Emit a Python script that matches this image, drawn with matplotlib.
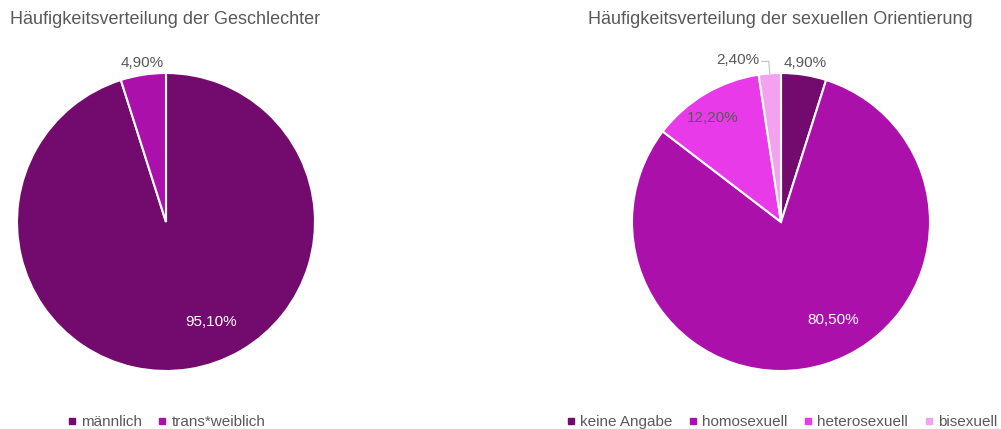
import numpy as np
import matplotlib
matplotlib.use("Agg")
import matplotlib.pyplot as plt
from matplotlib.lines import Line2D

plt.rcParams['font.family'] = ['Liberation Sans', 'DejaVu Sans']

# data
gender_labels = ['männlich', 'trans*weiblich']
gender_values = [95.1, 4.9]
gender_colors = ['#730b6e', '#ab10ab']

orient_labels = ['keine Angabe', 'homosexuell', 'heterosexuell', 'bisexuell']
orient_values = [4.9, 80.5, 12.2, 2.4]
orient_colors = ['#730b6e', '#ab10ab', '#e93ae9', '#f2a2ef']

W, H = 1001, 429
fig = plt.figure(figsize=(W / 100, H / 100), dpi=100)
ax = fig.add_axes([0, 0, 1, 1])
ax.axis('off')

R = 149
grey = '#595959'


def fmt(v):
    return f'{v:.2f}%'.replace('.', ',')


def draw_pie(cx, cy, values, colors, label_pos, label_colors):
    # label_pos: (dx, dy) offsets in units of radius
    ax.pie(values, colors=colors, startangle=90, counterclock=False,
           center=(cx, cy), radius=R, frame=True,
           wedgeprops=dict(edgecolor='white', linewidth=1.5))
    for v, p, c in zip(values, label_pos, label_colors):
        if p is None:
            continue
        ax.text(cx + p[0] * R, cy + p[1] * R, fmt(v),
                ha='center', va='center', fontsize=11, color=c)


# left pie
cxl, cyl = 166, H - 222
draw_pie(cxl, cyl, gender_values, gender_colors,
         [(0.30, -0.67), (-0.16, 1.07)], ['white', grey])

# right pie
cxr, cyr = 781, H - 222
draw_pie(cxr, cyr, orient_values, orient_colors,
         [(0.16, 1.07), (0.35, -0.66), (-0.46, 0.70), None],
         [grey, 'white', grey, grey])
# leader line for the small slice
a = np.deg2rad(90 + orient_values[3] * 3.6 / 2)
x0, y0 = cxr + R * np.cos(a), cyr + R * np.sin(a)
ax.plot([x0, x0 - 1, x0 - 8], [y0, y0 + 12, y0 + 12], color='#bfbfbf', lw=0.8)
ax.text(x0 - 10, y0 + 13, fmt(orient_values[3]), ha='right', va='center',
        fontsize=11, color=grey)

ax.set_xlim(0, W)
ax.set_ylim(0, H)
ax.set_aspect('equal')

# titles
fig.text(10 / W, 1 - 20 / H, 'Häufigkeitsverteilung der Geschlechter',
         fontsize=13, color=grey, va='center', ha='left')
fig.text(588 / W, 1 - 20 / H, 'Häufigkeitsverteilung der sexuellen Orientierung',
         fontsize=13, color=grey, va='center', ha='left')


def legend(labels, colors, x):
    handles = [Line2D([], [], marker='s', ls='', markersize=5, color=c) for c in colors]
    fig.legend(handles, labels, loc='center left', bbox_to_anchor=(x / W, 1 - 422 / H),
               ncol=len(labels), frameon=False, fontsize=11, handletextpad=0.1,
               columnspacing=0.85, handlelength=1.0, labelcolor=grey,
               borderaxespad=0, borderpad=0)


legend(gender_labels, gender_colors, 64)
legend(orient_labels, orient_colors, 563)

fig.savefig('out.png', dpi=100)
